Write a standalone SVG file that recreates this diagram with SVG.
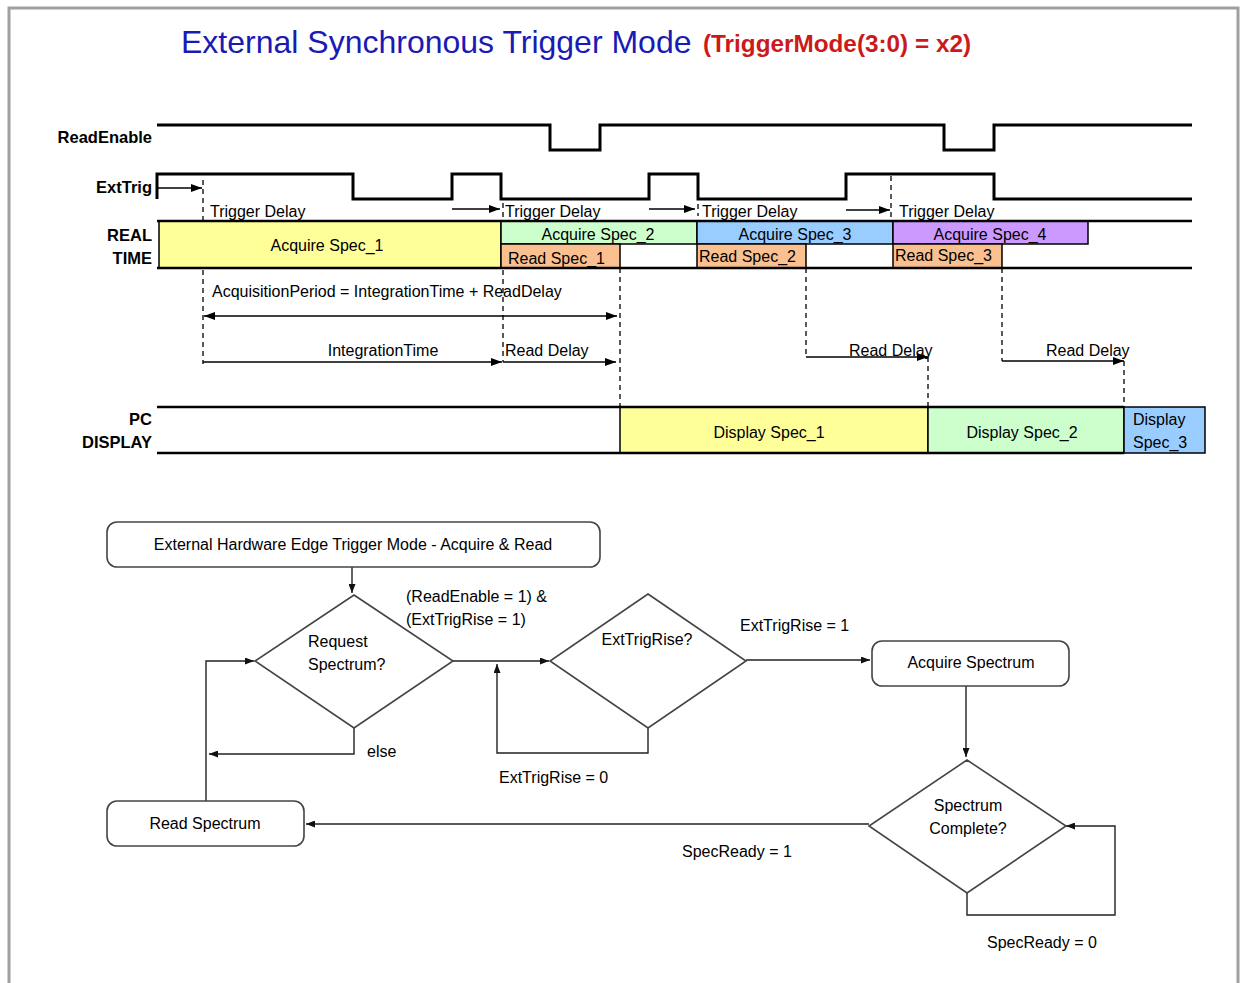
<svg xmlns="http://www.w3.org/2000/svg" width="1240" height="983" viewBox="0 0 1240 983">
<style>
text{font-family:"Liberation Sans",Arial,sans-serif;fill:#000}
.t{font-size:16px}
.lbl{font-size:16.5px;font-weight:bold}
.sig{fill:none;stroke:#000;stroke-width:3}
.lane{fill:none;stroke:#000;stroke-width:2.5}
.blk{stroke:#000;stroke-width:1.5}
.dash{fill:none;stroke:#000;stroke-width:1.3;stroke-dasharray:5,4}
.arr{fill:none;stroke:#000;stroke-width:1.6}
.fl{fill:none;stroke:#222;stroke-width:1.4}
.box{fill:#fff;stroke:#444;stroke-width:1.6}
.fc{font-size:16px}
</style>
<defs>
<marker id="ah" viewBox="0 0 11 8" refX="11" refY="4" markerWidth="11" markerHeight="8" markerUnits="userSpaceOnUse" orient="auto-start-reverse"><path d="M0,0 L11,4 L0,8 z" fill="#000"/></marker>
<marker id="fh" viewBox="0 0 9 7" refX="9" refY="3.5" markerWidth="9" markerHeight="7" markerUnits="userSpaceOnUse" orient="auto"><path d="M0,0 L9,3.5 L0,7 z" fill="#111"/></marker>
</defs>
<rect x="0" y="0" width="1240" height="983" fill="#fff"/>
<rect x="9" y="8" width="1229" height="1000" fill="#fff" stroke="#a0a0a0" stroke-width="3"/>

<g id="title">
<text x="181" y="53" style="font-size:32px;fill:#1a1ab4">External Synchronous Trigger Mode</text>
<text x="703" y="52" style="font-size:24px;font-weight:bold;fill:#cc1a1a" textLength="268" lengthAdjust="spacingAndGlyphs">(TriggerMode(3:0) = x2)</text>
</g>

<g id="timing-labels">
<text class="lbl" x="152" y="143" text-anchor="end">ReadEnable</text>
<text class="lbl" x="152" y="193" text-anchor="end">ExtTrig</text>
<text class="lbl" x="152" y="241" text-anchor="end">REAL</text>
<text class="lbl" x="152" y="264" text-anchor="end">TIME</text>
<text class="lbl" x="152" y="425" text-anchor="end">PC</text>
<text class="lbl" x="152" y="448" text-anchor="end">DISPLAY</text>
</g>

<g id="signals">
<path class="sig" d="M157,125 H550 V150 H600 V125 H944 V150 H994 V125 H1192"/>
<path class="sig" d="M157,199 V174 H353 V199 H452 V174 H501 V199 H649 V174 H698 V199 H846 V174 H994 V199 H1192"/>
</g>

<g id="realtime-lane">
<rect x="159" y="221" width="342" height="47" fill="#ffff99" class="blk"/>
<rect x="501" y="221" width="196" height="23" fill="#ccffcc" class="blk"/>
<rect x="697" y="221" width="196" height="23" fill="#99ccff" class="blk"/>
<rect x="893" y="221" width="195" height="23" fill="#cc99ff" class="blk"/>
<rect x="501" y="244" width="119" height="24" fill="#fac090" class="blk"/>
<rect x="697" y="244" width="109" height="24" fill="#fac090" class="blk"/>
<rect x="893" y="244" width="109" height="24" fill="#fac090" class="blk"/>
<path class="lane" d="M157,221 H1192 M157,268 H1192"/>
<text class="t" x="327" y="251" text-anchor="middle">Acquire Spec_1</text>
<text class="t" x="598" y="240" text-anchor="middle">Acquire Spec_2</text>
<text class="t" x="795" y="240" text-anchor="middle">Acquire Spec_3</text>
<text class="t" x="990" y="240" text-anchor="middle">Acquire Spec_4</text>
<text class="t" x="508" y="264">Read Spec_1</text>
<text class="t" x="699" y="262">Read Spec_2</text>
<text class="t" x="895" y="261">Read Spec_3</text>
</g>

<g id="pc-lane">
<rect x="620" y="407" width="308" height="46" fill="#ffff99" class="blk"/>
<rect x="928" y="407" width="196" height="46" fill="#ccffcc" class="blk"/>
<rect x="1124" y="407" width="81" height="46" fill="#99ccff" class="blk"/>
<path class="lane" d="M157,407 H1124 M157,453 H1124"/>
<text class="t" x="769" y="438" text-anchor="middle">Display Spec_1</text>
<text class="t" x="1022" y="438" text-anchor="middle">Display Spec_2</text>
<text class="t" x="1133" y="425">Display</text>
<text class="t" x="1133" y="448">Spec_3</text>
</g>

<g id="timing-markers">
<path class="dash" d="M203,180 V221 M203,270 V364 M503,203 V221 M503,270 V362 M698,204 V216 M891,176 V218 M620,268 V407 M806,268 V357 M1002,268 V361 M928,357 V407 M1124,361 V407"/>
<line class="arr" x1="158" y1="188" x2="202" y2="188" marker-end="url(#ah)"/>
<line class="arr" x1="452" y1="209" x2="500" y2="209" marker-end="url(#ah)"/>
<line class="arr" x1="649" y1="209" x2="695" y2="209" marker-end="url(#ah)"/>
<line class="arr" x1="846" y1="210" x2="890" y2="210" marker-end="url(#ah)"/>
<text class="t" x="210" y="217">Trigger Delay</text>
<text class="t" x="505" y="217">Trigger Delay</text>
<text class="t" x="702" y="217">Trigger Delay</text>
<text class="t" x="899" y="217">Trigger Delay</text>
<text class="t" x="212" y="297">AcquisitionPeriod = IntegrationTime + ReadDelay</text>
<line class="arr" x1="204" y1="316" x2="617" y2="316" marker-start="url(#ah)" marker-end="url(#ah)"/>
<line class="arr" x1="203" y1="362" x2="502" y2="362" marker-end="url(#ah)"/>
<line class="arr" x1="503" y1="362" x2="616" y2="362" marker-end="url(#ah)"/>
<text class="t" x="383" y="356" text-anchor="middle">IntegrationTime</text>
<text class="t" x="505" y="356">Read Delay</text>
<line class="arr" x1="806" y1="357" x2="928" y2="357" marker-end="url(#ah)"/>
<text class="t" x="849" y="356">Read Delay</text>
<line class="arr" x1="1002" y1="361" x2="1124" y2="361" marker-end="url(#ah)"/>
<text class="t" x="1046" y="356">Read Delay</text>
</g>

<g id="connectors">
<line class="fl" x1="352" y1="567" x2="352" y2="593" marker-end="url(#fh)"/>
<line class="fl" x1="453" y1="661" x2="549" y2="661" marker-end="url(#fh)"/>
<polyline class="fl" points="648,728 648,753 497,753 497,664" marker-end="url(#fh)"/>
<line class="fl" x1="746" y1="660" x2="870" y2="660" marker-end="url(#fh)"/>
<line class="fl" x1="966" y1="686" x2="966" y2="757" marker-end="url(#fh)"/>
<polyline class="fl" points="967,893 967,915 1115,915 1115,826 1066,826" marker-end="url(#fh)"/>
<line class="fl" x1="869" y1="824" x2="306" y2="824" marker-end="url(#fh)"/>
<polyline class="fl" points="206,801 206,661 254,661" marker-end="url(#fh)"/>
<polyline class="fl" points="354,728 354,754 209,754" marker-end="url(#fh)"/>
<text class="fc" x="406" y="602">(ReadEnable = 1) &amp;</text>
<text class="fc" x="406" y="625">(ExtTrigRise = 1)</text>
<text class="fc" x="740" y="631">ExtTrigRise = 1</text>
<text class="fc" x="499" y="783">ExtTrigRise = 0</text>
<text class="fc" x="367" y="757">else</text>
<text class="fc" x="682" y="857">SpecReady = 1</text>
<text class="fc" x="987" y="948">SpecReady = 0</text>
</g>

<g id="start">
<rect class="box" x="107" y="522" width="493" height="45" rx="10"/>
<text class="fc" x="353" y="550" text-anchor="middle">External Hardware Edge Trigger Mode - Acquire &amp; Read</text>
</g>
<g id="request">
<polygon class="box" points="354,595 453,661 354,728 255,661"/>
<text class="fc" x="308" y="647">Request</text>
<text class="fc" x="308" y="670">Spectrum?</text>
</g>
<g id="exttrigrise">
<polygon class="box" points="648,594 746,661 648,728 550,661"/>
<text class="fc" x="647" y="645" text-anchor="middle">ExtTrigRise?</text>
</g>
<g id="acquire">
<rect class="box" x="872" y="641" width="197" height="45" rx="10"/>
<text class="fc" x="971" y="668" text-anchor="middle">Acquire Spectrum</text>
</g>
<g id="complete">
<polygon class="box" points="967,760 1066,826 967,893 869,826"/>
<text class="fc" x="968" y="811" text-anchor="middle">Spectrum</text>
<text class="fc" x="968" y="834" text-anchor="middle">Complete?</text>
</g>
<g id="read">
<rect class="box" x="107" y="801" width="197" height="45" rx="10"/>
<text class="fc" x="205" y="829" text-anchor="middle">Read Spectrum</text>
</g>
</svg>
